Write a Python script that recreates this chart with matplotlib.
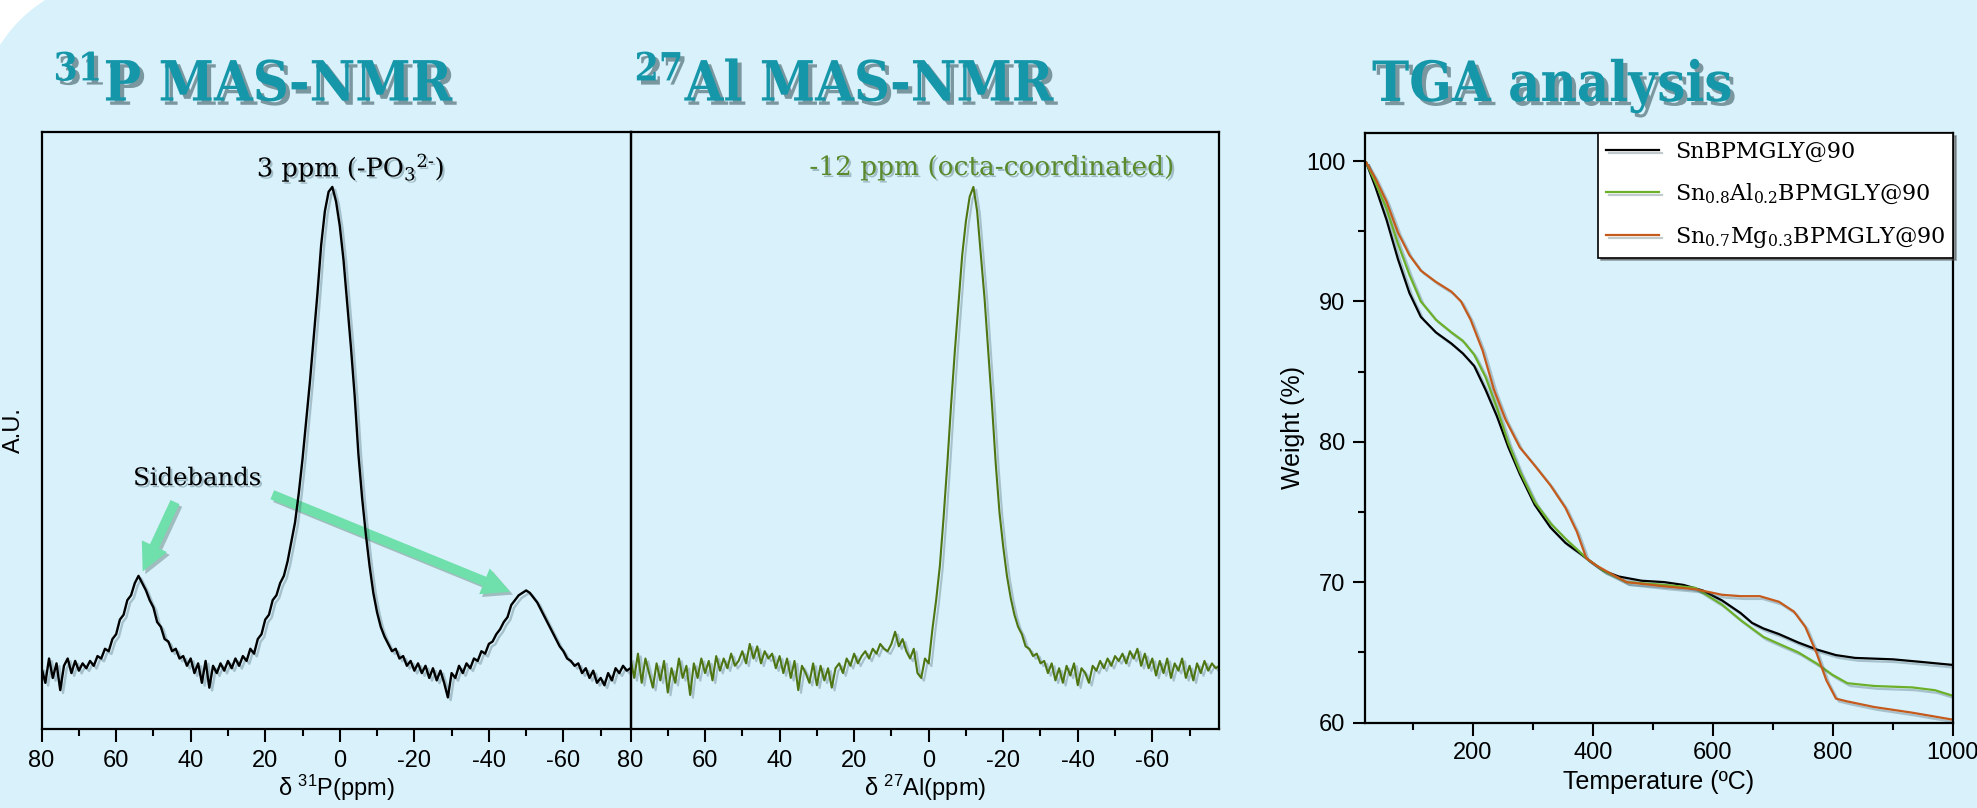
import matplotlib
matplotlib.use("Agg")
import matplotlib.pyplot as plt
import matplotlib.patheffects as pe
from matplotlib import font_manager
from matplotlib.patches import FancyBboxPatch, FancyArrowPatch
from matplotlib.ticker import MultipleLocator

# chemical shift grid (ppm), read every 1 ppm from the spectra
PPM = list(range(80, -79, -1))

# 31P MAS-NMR, normalised intensity (main peak = 1)
P31_INTENSITY = [
    0.01, -0.02, 0.03, -0.01, 0.02, -0.035, 0.015, 0.03, 0.0, 0.025,      # 80..71
    0.005, 0.02, 0.01, 0.025, 0.015, 0.035, 0.03, 0.05, 0.045, 0.07,      # 70..61
    0.08, 0.11, 0.12, 0.15, 0.16, 0.185, 0.2, 0.185, 0.17, 0.15,          # 60..51
    0.135, 0.105, 0.095, 0.07, 0.065, 0.045, 0.05, 0.03, 0.035, 0.015,    # 50..41
    0.03, 0.0, 0.02, -0.02, 0.025, -0.03, 0.015, 0.0, 0.02, 0.005,        # 40..31
    0.025, 0.01, 0.03, 0.015, 0.035, 0.025, 0.05, 0.04, 0.07, 0.08,       # 30..21
    0.11, 0.12, 0.15, 0.16, 0.185, 0.2, 0.23, 0.27, 0.31, 0.37,           # 20..11
    0.44, 0.52, 0.6, 0.69, 0.78, 0.88, 0.95, 0.99, 1.0, 0.97,             # 10..1
    0.92, 0.85, 0.76, 0.67, 0.57, 0.45, 0.36, 0.285, 0.22, 0.165,         # 0..-9
    0.125, 0.095, 0.075, 0.06, 0.045, 0.05, 0.03, 0.035, 0.015, 0.025,    # -10..-19
    0.005, 0.02, 0.0, 0.015, -0.01, 0.01, -0.015, 0.005, -0.02, -0.05,    # -20..-29
    0.0, -0.01, 0.015, 0.0, 0.02, 0.01, 0.03, 0.025, 0.045, 0.04,         # -30..-39
    0.06, 0.065, 0.08, 0.09, 0.105, 0.115, 0.14, 0.15, 0.16, 0.165,       # -40..-49
    0.17, 0.165, 0.155, 0.145, 0.13, 0.115, 0.1, 0.085, 0.07, 0.055,      # -50..-59
    0.045, 0.03, 0.025, 0.015, 0.02, 0.0, 0.01, -0.01, 0.005, -0.02,      # -60..-69
    -0.01, -0.025, 0.0, -0.015, 0.01, 0.0, 0.015, 0.005, 0.01,            # -70..-78
]

# 27Al MAS-NMR, normalised intensity
AL27_INTENSITY = [
    0.03, -0.01, 0.04, -0.02, 0.03, 0.0, -0.03, 0.02, -0.015, 0.025,     # 80..71
    -0.04, 0.01, -0.02, 0.03, -0.01, 0.015, -0.045, 0.02, -0.01, 0.03,   # 70..61
    0.0, 0.025, -0.015, 0.035, 0.005, 0.03, 0.01, 0.04, 0.015, 0.025,    # 60..51
    0.045, 0.02, 0.06, 0.03, 0.055, 0.02, 0.045, 0.03, 0.04, 0.01,       # 50..41
    0.035, 0.0, 0.03, -0.01, 0.025, -0.035, 0.015, 0.0, -0.02, 0.02,     # 40..31
    -0.025, 0.015, -0.015, 0.01, -0.03, 0.01, 0.02, 0.0, 0.03, 0.015,    # 30..21
    0.04, 0.02, 0.035, 0.045, 0.03, 0.05, 0.04, 0.06, 0.05, 0.045,       # 20..11
    0.06, 0.085, 0.055, 0.07, 0.045, 0.03, 0.05, 0.0, -0.01, 0.03,       # 10..1
    0.02, 0.09, 0.15, 0.22, 0.32, 0.43, 0.55, 0.66, 0.76, 0.86,          # 0..-9
    0.93, 0.98, 1.0, 0.95, 0.86, 0.77, 0.66, 0.55, 0.43, 0.33,           # -10..-19
    0.26, 0.2, 0.155, 0.12, 0.095, 0.08, 0.055, 0.05, 0.035, 0.04,       # -20..-29
    0.02, 0.025, 0.0, 0.02, -0.015, 0.01, -0.02, 0.015, -0.005, 0.02,    # -30..-39
    -0.025, 0.01, 0.0, -0.02, 0.015, 0.005, 0.025, 0.01, 0.03, 0.015,    # -40..-49
    0.035, 0.025, 0.04, 0.02, 0.045, 0.03, 0.05, 0.015, 0.04, 0.01,      # -50..-59
    0.03, -0.005, 0.025, 0.0, 0.03, -0.01, 0.02, 0.005, 0.03, -0.01,     # -60..-69
    0.015, -0.015, 0.02, 0.0, 0.025, 0.005, 0.02, 0.01, 0.015,           # -70..-78
]

# TGA curves: temperature (C) and weight (%)
TEMP_SN = [22, 37, 56, 75, 94, 113, 138, 164, 183, 202, 221, 240, 259, 278, 303,
           329, 354, 380, 392, 418, 443, 481, 519, 551, 583, 615, 646, 665, 684,
           710, 742, 773, 805, 837, 900, 951, 1000]
WEIGHT_SN = [99.9, 98.2, 95.8, 93.0, 90.6, 88.9, 87.8, 87.0, 86.3, 85.4, 83.7, 81.8,
             79.6, 77.7, 75.5, 73.9, 72.8, 72.0, 71.6, 70.8, 70.4, 70.1, 70.0, 69.8,
             69.4, 68.7, 67.8, 67.1, 66.7, 66.3, 65.7, 65.2, 64.8, 64.6, 64.5, 64.3, 64.1]

TEMP_AL = [22, 37, 56, 75, 94, 113, 138, 164, 183, 202, 221, 240, 259, 278, 303,
           329, 354, 392, 418, 456, 519, 570, 615, 646, 684, 710, 742, 773, 799,
           824, 869, 932, 970, 1000]
WEIGHT_AL = [99.9, 98.5, 96.6, 94.1, 91.9, 90.0, 88.7, 87.8, 87.2, 86.2, 84.6, 82.4,
             79.9, 77.9, 75.7, 74.2, 73.1, 71.6, 70.8, 70.0, 69.8, 69.6, 68.4, 67.3,
             66.1, 65.6, 65.0, 64.2, 63.4, 62.8, 62.6, 62.5, 62.3, 61.9]

TEMP_MG = [22, 37, 56, 75, 94, 113, 138, 164, 180, 196, 216, 235, 254, 278, 303,
           329, 354, 373, 389, 405, 430, 456, 519, 570, 615, 646, 678, 710, 735,
           754, 773, 789, 805, 824, 869, 932, 1000]
WEIGHT_MG = [99.9, 98.8, 97.1, 94.9, 93.3, 92.2, 91.4, 90.7, 90.0, 88.7, 86.5, 83.7,
             81.6, 79.6, 78.3, 76.9, 75.3, 73.6, 71.7, 71.2, 70.6, 70.0, 69.7, 69.5,
             69.1, 69.0, 69.0, 68.6, 67.9, 66.8, 64.9, 63.0, 61.7, 61.5, 61.1, 60.7, 60.2]

TGA_LABELS = ["SnBPMGLY@90",
              "Sn$_{0.8}$Al$_{0.2}$BPMGLY@90",
              "Sn$_{0.7}$Mg$_{0.3}$BPMGLY@90"]
TGA_COLORS = ["#000000", "#6cb02a", "#c45a1c"]

BG = "#d8f1fb"
TITLE_COLOR = "#1597a9"
ARROW_COLOR = "#6fe0ab"
AL_COLOR = "#4e7512"

plt.rcParams["font.family"] = ["Liberation Sans", "DejaVu Sans"]
plt.rcParams["mathtext.default"] = "regular"
plt.rcParams["axes.unicode_minus"] = False

# use the condensed slab-ish serif when it is installed
_cond = font_manager.FontProperties(family="DejaVu Serif", weight="bold", stretch="condensed")
HAVE_CONDENSED = "Condensed" in font_manager.findfont(_cond, fallback_to_default=False)
TITLE_SIZE = 40 if HAVE_CONDENSED else 36.5
TITLE_STRETCH = "condensed" if HAVE_CONDENSED else "normal"

W, H = 1977, 808
fig = plt.figure(figsize=(W / 100, H / 100), dpi=100)
fig.patch.set_facecolor("white")
bg = FancyBboxPatch((-30, -100), 2100, 938, boxstyle="round,pad=0,rounding_size=200",
                    transform=None, facecolor=BG, edgecolor="none", zorder=-10)
fig.add_artist(bg)


def px_rect(x0, y0, x1, y1):
    return [x0 / W, 1 - y1 / H, (x1 - x0) / W, (y1 - y0) / H]


shadow_line = [pe.SimpleLineShadow(offset=(2, -2), shadow_color="#33545e", alpha=0.3), pe.Normal()]
shadow_text = [pe.withSimplePatchShadow(offset=(1.5, -1.5), shadow_rgbFace="#3a5a63", alpha=0.35)]

ax_p = fig.add_axes(px_rect(41.6, 132, 630.5, 729))
ax_al = fig.add_axes(px_rect(630.5, 132, 1219.4, 729))
ax_t = fig.add_axes(px_rect(1365, 133, 1953, 722.5))

for ax in (ax_p, ax_al, ax_t):
    ax.set_facecolor("none")
    for s in ax.spines.values():
        s.set_linewidth(1.6)

for ax in (ax_p, ax_al):
    ax.set_xlim(80, -78)
    ax.set_ylim(-0.115, 1.113)
    ax.xaxis.set_major_locator(MultipleLocator(20))
    ax.xaxis.set_minor_locator(MultipleLocator(10))
    ax.set_yticks([])
    ax.tick_params(axis="x", which="major", direction="out", length=9, width=1.5,
                   labelsize=17, pad=6)
    ax.tick_params(axis="x", which="minor", direction="out", length=5, width=1.5)

ax_p.plot(PPM, P31_INTENSITY, color="black", lw=1.7, path_effects=shadow_line)
ax_al.plot(PPM, AL27_INTENSITY, color=AL_COLOR, lw=1.5, path_effects=shadow_line)

ax_p.set_xlabel("δ $^{31}$P(ppm)", fontsize=17, labelpad=1)
ax_al.set_xlabel("δ $^{27}$Al(ppm)", fontsize=17, labelpad=1)
ax_p.set_ylabel("A.U.", fontsize=17, labelpad=12)

ax_p.text(-3, 1.04, "3 ppm (-PO$_3$$^{2\u2010}$)", family="DejaVu Serif", fontsize=18.5,
          ha="center", va="center", path_effects=shadow_text)
ax_p.text(38.3, 0.40, "Sidebands", family="DejaVu Serif", fontsize=17.5,
          ha="center", va="center", path_effects=shadow_text)
ax_al.text(-17, 1.04, "-12 ppm (octa-coordinated)", family="DejaVu Serif", fontsize=19,
           color="#5a8a2c", ha="center", va="center", path_effects=shadow_text)

arrow_style = "simple,head_length=0.8,head_width=0.8,tail_width=0.28"
for start, end in [((43.9, 0.357), (53.2, 0.204)), ((18.8, 0.369), (-46.4, 0.165))]:
    arr = FancyArrowPatch(start, end, arrowstyle=arrow_style, mutation_scale=25,
                          facecolor=ARROW_COLOR, edgecolor="none", lw=0,
                          path_effects=[pe.withSimplePatchShadow(offset=(2, -2), alpha=0.3)])
    ax_p.add_patch(arr)

# TGA panel
for temp, weight, color, label in zip([TEMP_SN, TEMP_AL, TEMP_MG],
                                      [WEIGHT_SN, WEIGHT_AL, WEIGHT_MG],
                                      TGA_COLORS, TGA_LABELS):
    ax_t.plot(temp, weight, color=color, lw=1.6, label=label, path_effects=shadow_line)

ax_t.set_xlim(20, 1000)
ax_t.set_ylim(60, 102)
ax_t.xaxis.set_major_locator(MultipleLocator(200))
ax_t.xaxis.set_minor_locator(MultipleLocator(100))
ax_t.yaxis.set_major_locator(MultipleLocator(10))
ax_t.yaxis.set_minor_locator(MultipleLocator(5))
ax_t.tick_params(which="major", direction="out", length=9, width=1.5, labelsize=17, pad=5)
ax_t.tick_params(which="minor", direction="out", length=5, width=1.5)
ax_t.set_xlabel("Temperature (ºC)", fontsize=18, labelpad=4)
ax_t.set_ylabel("Weight (%)", fontsize=18, labelpad=1)

leg = ax_t.legend(loc="upper right", borderaxespad=0, fancybox=False, framealpha=1,
                  edgecolor="black", shadow=True, handlelength=2.4, handletextpad=0.7,
                  borderpad=0.35, labelspacing=0.85,
                  prop={"family": "DejaVu Serif", "size": 16})
leg.get_frame().set_linewidth(1.2)

# panel titles
title_kw = dict(family="DejaVu Serif", weight="bold", stretch=TITLE_STRETCH,
                fontsize=TITLE_SIZE, color=TITLE_COLOR, va="baseline", ha="left",
                path_effects=[pe.withSimplePatchShadow(offset=(3, -3), shadow_rgbFace="#1d3c44", alpha=0.5)])
fig.text(53 / W, 1 - 101 / H, "$^{31}$P MAS-NMR", **title_kw)
fig.text(634 / W, 1 - 101 / H, "$^{27}$Al MAS-NMR", **title_kw)
fig.text(1372 / W, 1 - 101 / H, "TGA analysis", **title_kw)

fig.savefig("out.png", dpi=100, facecolor=fig.get_facecolor())
